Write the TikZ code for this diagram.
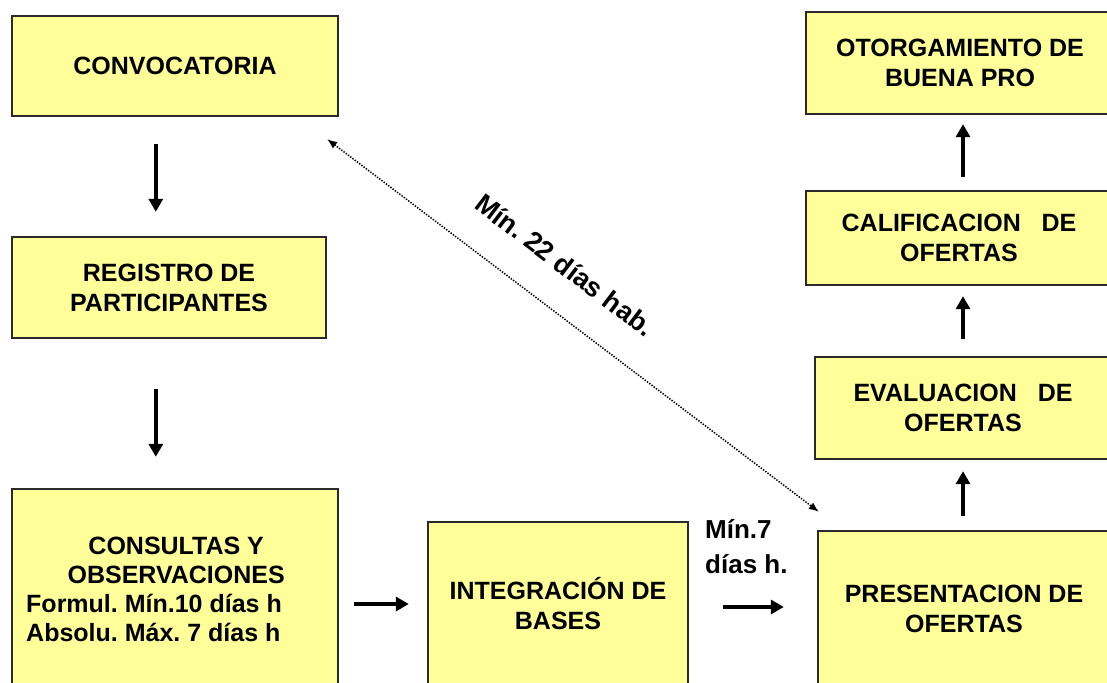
\documentclass[tikz,border=0pt]{standalone}
\usepackage{fontspec}
\setmainfont{Liberation Sans}
\usetikzlibrary{arrows.meta,calc}
\definecolor{boxyellow}{HTML}{FFFF99}
\definecolor{boxline}{HTML}{2A2A2A}
\tikzset{
  stepbox/.style={draw=boxline, line width=2.4pt, fill=boxyellow, inner sep=0pt,
    align=center, font=\bfseries\fontsize{25}{30}\selectfont},
  flowarrow/.style={line width=3.6pt, -{Triangle[length=13pt,width=14pt]}},
  dotarrow/.style={line width=1.5pt, dash pattern=on 1.4pt off 1.4pt, {Latex[length=10pt,width=8pt]}-{Latex[length=10pt,width=8pt]}},
  lbl/.style={font=\bfseries\fontsize{25}{29}\selectfont, inner sep=0pt}
}
\begin{document}
\frenchspacing
\begin{tikzpicture}[x=1pt,y=-1pt]
\useasboundingbox (0,0) rectangle (1107,682);
\clip (0,0) rectangle (1107,682);
% left column
\node[stepbox, minimum width=326pt, minimum height=100pt] (conv) at (175,66) {CONVOCATORIA};
\node[stepbox, minimum width=314pt, minimum height=101pt] (reg) at (169,287.5) {REGISTRO DE\\PARTICIPANTES};
\node[stepbox, minimum width=326pt, minimum height=202pt] (cons) at (175,590) {};
\node[lbl, align=left, anchor=base west] (consT) at (26,641)
  {\makebox[300pt][c]{CONSULTAS Y}\\\makebox[300pt][c]{OBSERVACIONES}\\Formul. Mín.10 días h\\Absolu. Máx. 7 días h};
% middle
\node[stepbox, minimum width=260pt, minimum height=164pt] (integ) at (558,604) {INTEGRACIÓN DE\\BASES};
% right column
\node[stepbox, minimum width=308pt, minimum height=102pt] (otorg) at (960,63) {OTORGAMIENTO DE\\BUENA PRO};
\node[stepbox, minimum width=306pt, minimum height=94pt] (calif) at (959,238) {CALIFICACION\ \ \ DE\\OFERTAS};
\node[stepbox, minimum width=296pt, minimum height=102pt] (eval) at (963,408) {EVALUACION\ \ \ DE\\OFERTAS};
\node[stepbox, minimum width=292pt, minimum height=156pt] (pres) at (964,609) {PRESENTACION DE\\OFERTAS};
% flow arrows
\draw[flowarrow, shorten <=27pt, shorten >=24pt] ([xshift=145pt]conv.south west) -- ([xshift=145pt]reg.north west);
\draw[flowarrow, shorten <=50pt, shorten >=31pt] ([xshift=145pt]reg.south west) -- ([xshift=145pt]cons.north west);
\draw[flowarrow, shorten <=15pt, shorten >=18pt] (cons.east |- integ.west) -- (integ.west);
\draw[flowarrow, shorten <=34pt, shorten >=33pt] ([yshift=-3pt]integ.east) -- ([yshift=-3pt]pres.west |- integ.east);
\draw[flowarrow, shorten <=14pt, shorten >=11pt] (pres.north -| eval.south) -- (eval.south);
\draw[flowarrow, shorten <=17pt, shorten >=10pt] (eval.north) -- (calif.south -| eval.north);
\draw[flowarrow, shorten <=13pt, shorten >=9pt] (calif.north -| eval.north) -- (otorg.south -| eval.north);
% dotted time span
\draw[dotarrow] ([shift={(-12,22)}]conv.south east) -- ([shift={(2,-18)}]pres.north west);
\node[lbl, rotate=-37.2, font=\bfseries\fontsize{27}{30}\selectfont] (span22) at (565,265) {Mín. 22 días hab.};
\node[lbl, align=left, anchor=base west, font=\bfseries\fontsize{26}{35}\selectfont] (span7) at (705,573) {Mín.7\\días h.};
\end{tikzpicture}
\end{document}
